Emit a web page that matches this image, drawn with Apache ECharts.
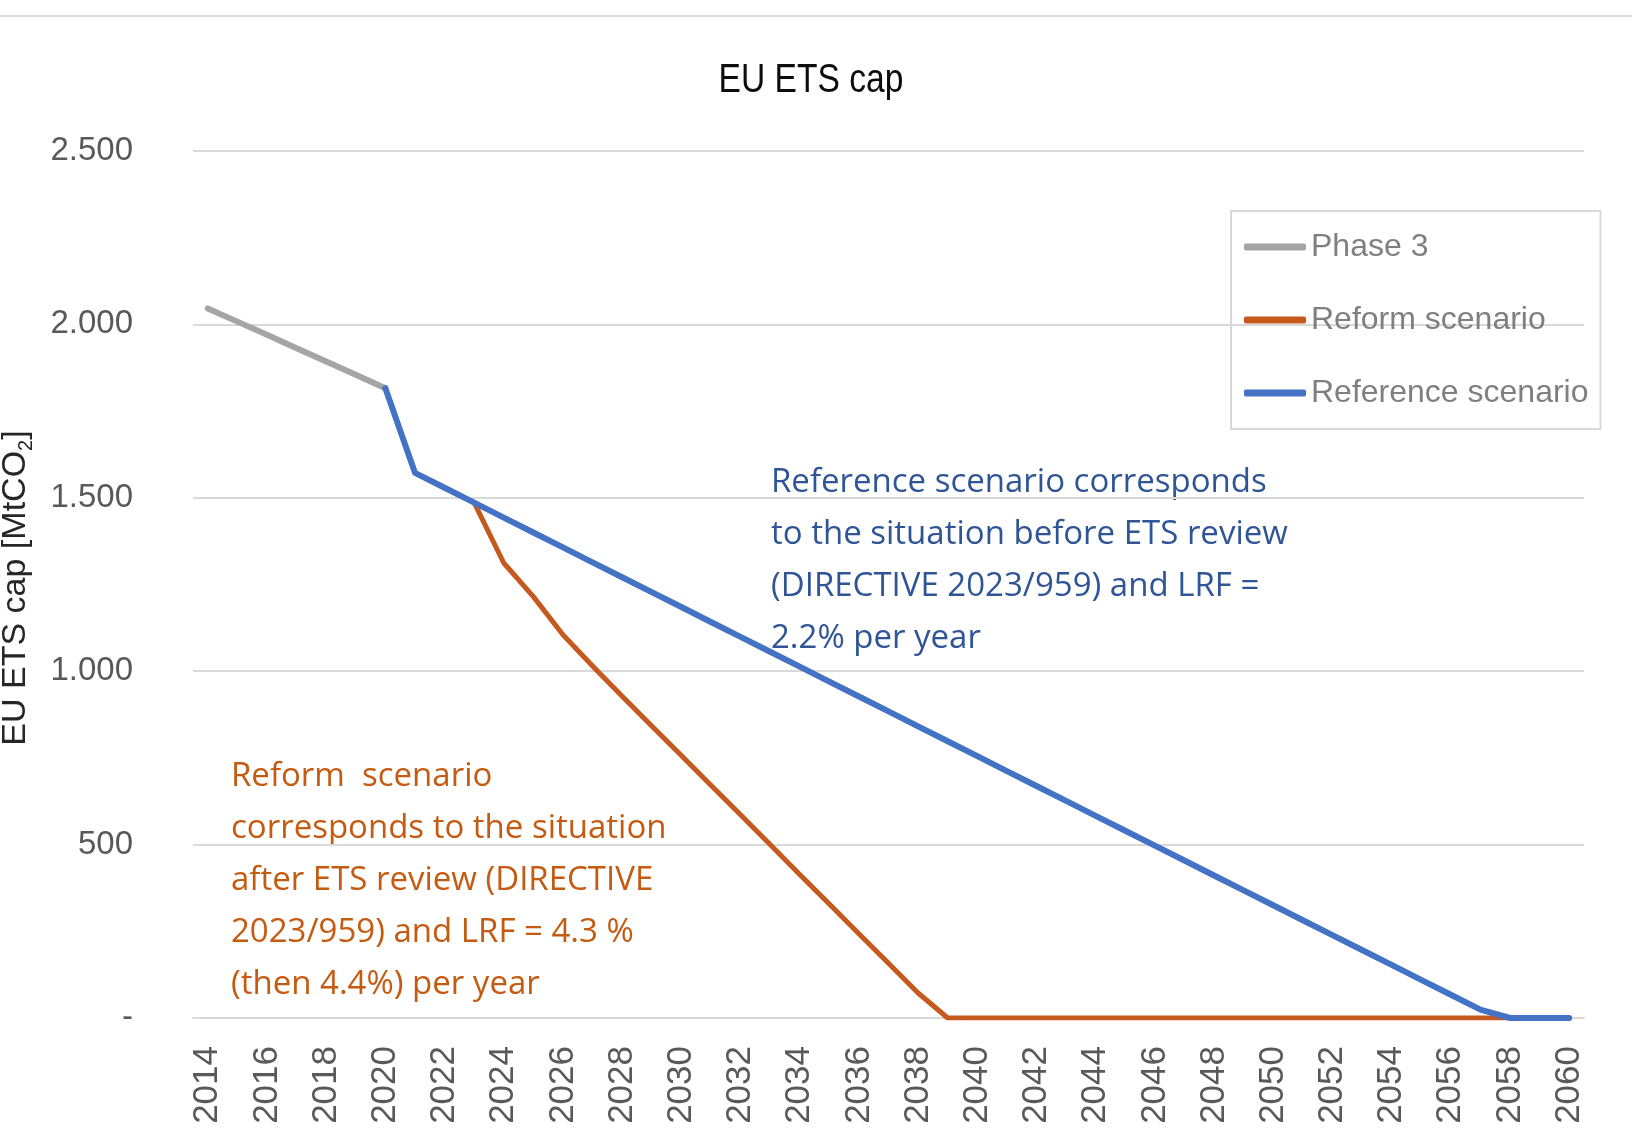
<!DOCTYPE html>
<html>
<head>
<meta charset="utf-8">
<script src="https://cdn.jsdelivr.net/npm/echarts@6/dist/echarts.min.js"></script>
<style>
  html, body { margin: 0; padding: 0; background: #fff; }
  #chart { width: 1632px; height: 1133px; }
</style>
</head>
<body>
<div id="chart"></div>
<script>
// categories (years)
const years = [
  '2014', '2015', '2016', '2017', '2018', '2019', '2020', '2021', '2022', '2023',
  '2024', '2025', '2026', '2027', '2028', '2029', '2030', '2031', '2032', '2033',
  '2034', '2035', '2036', '2037', '2038', '2039', '2040', '2041', '2042', '2043',
  '2044', '2045', '2046', '2047', '2048', '2049', '2050', '2051', '2052', '2053',
  '2054', '2055', '2056', '2057', '2058', '2059', '2060'
]
// Phase 3 cap, 2014-2020
const phase3Start = 2014
const phase3 = [2046, 2008, 1970, 1931, 1893, 1855, 1816]
// Reform scenario, 2023-2058
const reformStart = 2023
const reform = [
  1486, 1312, 1215, 1105, 1015, 928, 842, 757, 671, 586,
  500, 414, 329, 243, 158, 72, 0, 0, 0, 0,
  0, 0, 0, 0, 0, 0, 0, 0, 0, 0,
  0, 0, 0, 0, 0, 0
]
// Reference scenario, 2020-2060
const referenceStart = 2020
const reference = [
  1816, 1572, 1529, 1486, 1443, 1400, 1357, 1314, 1271, 1228,
  1185, 1142, 1099, 1056, 1013, 970, 927, 884, 841, 798,
  755, 712, 669, 626, 583, 540, 497, 454, 411, 368,
  325, 282, 239, 196, 153, 110, 67, 24, 0, 0, 0
]
// y tick labels (0, 500, ..., 2500)
const yTickLabels = ['-', '500', '1.000', '1.500', '2.000', '2.500']

const sans = "'Liberation Sans', Arial, sans-serif"
const toPairs = (start, values) => values.map((v, i) => [String(start + i), v])

const myChart = echarts.init(document.getElementById('chart'))

const option = {
  backgroundColor: '#fff',
  animation: false,
  grid: { left: 193, right: 48, top: 151, bottom: 115 },
  legend: {
    orient: 'vertical',
    left: 1231,
    top: 211,
    padding: [20, 12, 20, 13],
    itemGap: 41,
    itemWidth: 62,
    itemHeight: 7,
    icon: 'roundRect',
    borderColor: '#d9d9d9',
    borderWidth: 2,
    textStyle: { fontFamily: sans, fontSize: 32, color: '#7f7f7f' },
    data: ['Phase 3', 'Reform scenario', 'Reference scenario']
  },
  xAxis: {
    type: 'category',
    data: years,
    boundaryGap: true,
    axisLine: { lineStyle: { color: '#d9d9d9', width: 2 } },
    axisTick: { show: false },
    axisLabel: {
      interval: 1,
      rotate: 90,
      margin: 28,
      fontFamily: sans,
      fontSize: 35,
      color: '#595959'
    }
  },
  yAxis: {
    type: 'value',
    min: 0,
    max: 2500,
    interval: 500,
    axisLine: { show: false },
    axisTick: { show: false },
    splitLine: { lineStyle: { color: '#d9d9d9', width: 2 } },
    axisLabel: {
      margin: 60,
      fontFamily: sans,
      fontSize: 33,
      color: '#595959',
      formatter: (v) => yTickLabels[Math.round(v / 500)]
    }
  },
  series: [
    {
      name: 'Phase 3',
      type: 'line',
      data: toPairs(phase3Start, phase3),
      showSymbol: false,
      color: '#a5a5a5',
      lineStyle: { color: '#a5a5a5', width: 6, cap: 'round', join: 'round' }
    },
    {
      name: 'Reform scenario',
      type: 'line',
      data: toPairs(reformStart, reform),
      showSymbol: false,
      color: '#c65a1e',
      lineStyle: { color: '#c65a1e', width: 5, cap: 'round', join: 'round' }
    },
    {
      name: 'Reference scenario',
      type: 'line',
      data: toPairs(referenceStart, reference),
      showSymbol: false,
      color: '#4472c4',
      lineStyle: { color: '#4472c4', width: 6, cap: 'round', join: 'round' }
    }
  ],
  graphic: [
    // top border of the figure
    {
      type: 'line',
      shape: { x1: 0, y1: 16, x2: 1632, y2: 16 },
      style: { stroke: '#d9d9d9', lineWidth: 2 }
    },
    // title (narrow look)
    {
      type: 'text',
      x: 811,
      y: 81,
      scaleX: 0.84,
      style: {
        text: 'EU ETS cap',
        fontFamily: sans,
        fontSize: 40,
        fill: '#0d0d0d',
        align: 'center',
        verticalAlign: 'middle'
      }
    },
    // y axis title
    {
      type: 'text',
      x: 16,
      y: 588,
      rotation: Math.PI / 2,
      style: {
        text: '{a|EU ETS cap [MtCO}{s|2}{a|]}',
        align: 'center',
        verticalAlign: 'middle',
        rich: {
          a: { fontFamily: sans, fontSize: 34, lineHeight: 40, fill: '#262626' },
          s: { fontFamily: sans, fontSize: 20, lineHeight: 20, verticalAlign: 'bottom', fill: '#262626' }
        }
      }
    },
    // annotation: reference scenario
    {
      type: 'text',
      x: 771,
      y: 457,
      style: {
        text: 'Reference scenario corresponds\nto the situation before ETS review\n(DIRECTIVE 2023/959) and LRF =\n2.2% per year',
        fontFamily: "'Open Sans', sans-serif",
        fontSize: 33,
        lineHeight: 52,
        fill: '#2f5597',
        align: 'left',
        verticalAlign: 'top'
      }
    },
    // annotation: reform scenario
    {
      type: 'text',
      x: 231,
      y: 751,
      style: {
        text: 'Reform  scenario\ncorresponds to the situation\nafter ETS review (DIRECTIVE\n2023/959) and LRF = 4.3 %\n(then 4.4%) per year',
        fontFamily: "'Open Sans', sans-serif",
        fontSize: 33,
        lineHeight: 52,
        fill: '#c55a11',
        align: 'left',
        verticalAlign: 'top'
      }
    }
  ]
}

myChart.setOption(option)
</script>
</body>
</html>
